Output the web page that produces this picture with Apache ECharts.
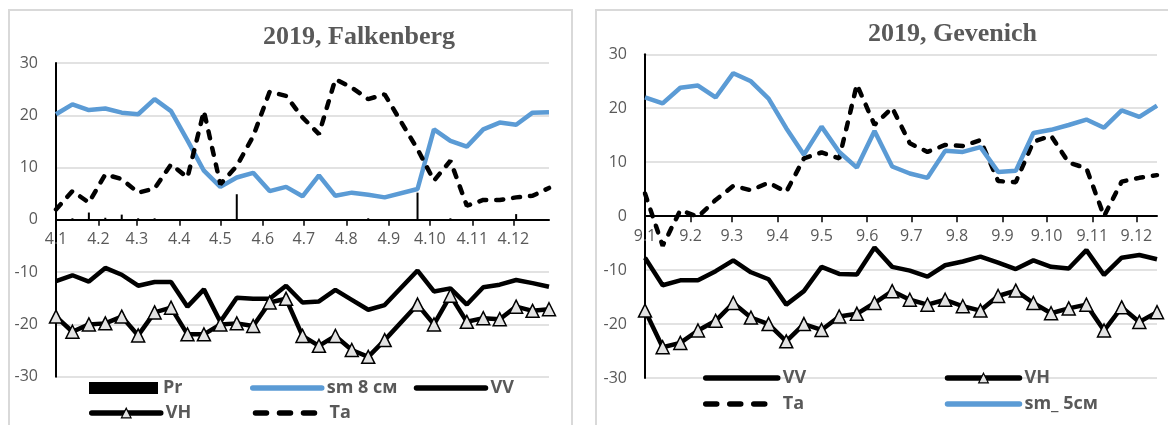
<!DOCTYPE html>
<html>
<head>
<meta charset="utf-8">
<script src="https://cdn.jsdelivr.net/npm/echarts@6/dist/echarts.min.js"></script>
<style>
html,body{margin:0;padding:0;background:#fff;}
#chart{width:1168px;height:425px;}
</style>
</head>
<body>
<div id="chart"></div>
<script>
// ---------- Falkenberg (left) ----------
const datesF = ['2019-01-04','2019-01-16','2019-01-28','2019-02-09','2019-02-21','2019-03-05','2019-03-17','2019-03-29',
  '2019-04-10','2019-04-22','2019-05-04','2019-05-16','2019-05-28','2019-06-09','2019-06-21','2019-07-03','2019-07-15',
  '2019-07-27','2019-08-08','2019-08-20','2019-09-01','2019-09-25','2019-10-07','2019-10-19','2019-10-31','2019-11-12',
  '2019-11-24','2019-12-06','2019-12-18','2019-12-30'];
const prF  = [0,0.3,1.4,0.4,1.0,0.3,0.3,0,0,0,0,4.9,0,0,0,0,0,0,0,0.3,0,5.2,0,0.3,0,0,0,1.1,0,0];
const smF  = [20.2,22.1,21.0,21.3,20.5,20.2,23.1,20.8,15.2,9.4,6.3,8.1,9.0,5.5,6.3,4.5,8.5,4.6,5.2,4.8,4.3,
  5.9,17.3,15.1,14.0,17.3,18.6,18.2,20.5,20.6];
const vvF  = [-11.7,-10.6,-11.8,-9.2,-10.5,-12.6,-11.9,-11.9,-16.6,-13.3,-19.5,-14.9,-15.1,-15.1,-12.6,-15.8,-15.6,
  -13.4,-15.3,-17.2,-16.3,-9.7,-13.7,-13.1,-16.2,-12.9,-12.4,-11.5,-12.1,-12.8];
const vhF  = [-18.5,-21.4,-20.0,-19.8,-18.5,-22.1,-17.7,-16.8,-21.9,-21.9,-20.0,-19.8,-20.3,-15.8,-15.1,-22.2,-24.1,
  -22.2,-24.9,-26.2,-23.0,-16.2,-20.0,-14.5,-19.5,-18.8,-19.0,-16.6,-17.4,-17.1];
const taF  = [2.0,5.5,3.3,8.7,7.8,5.2,6.0,10.6,8.1,20.8,6.8,10.3,16.0,24.5,23.7,19.6,16.4,26.9,25.3,23.1,24.0,
  13.5,7.5,11.3,2.7,3.8,3.8,4.3,4.6,6.1];
const ticksF = ['4.1','4.2','4.3','4.4','4.5','4.6','4.7','4.8','4.9','4.10','4.11','4.12'];

// ---------- Gevenich (right) ----------
const datesG = ['2019-01-09','2019-01-21','2019-02-02','2019-02-14','2019-02-26','2019-03-10','2019-03-22','2019-04-03',
  '2019-04-15','2019-04-27','2019-05-09','2019-05-21','2019-06-02','2019-06-14','2019-06-26','2019-07-08','2019-07-20',
  '2019-08-01','2019-08-13','2019-08-25','2019-09-06','2019-09-18','2019-09-30','2019-10-12','2019-10-24','2019-11-05',
  '2019-11-17','2019-11-29','2019-12-11','2019-12-23'];
const vvG = [-7.7,-12.8,-11.9,-11.9,-10.2,-8.2,-10.4,-11.7,-16.4,-13.9,-9.4,-10.7,-10.8,-5.8,-9.4,-10.1,-11.2,-9.1,
  -8.4,-7.5,-8.6,-9.8,-8.2,-9.4,-9.7,-6.3,-10.9,-7.7,-7.2,-8.0];
const vhG = [-17.5,-24.3,-23.5,-21.2,-19.4,-16.1,-18.8,-20.0,-23.2,-20.0,-21.1,-18.6,-18.1,-16.1,-13.9,-15.5,-16.4,
  -15.5,-16.7,-17.5,-14.8,-13.8,-16.1,-18.0,-17.1,-16.4,-21.2,-16.9,-19.6,-17.8];
const taG = [4.2,-5.5,1.1,-0.1,3.0,5.6,4.8,6.2,4.5,10.7,11.8,10.7,24.4,16.9,20.1,13.5,11.9,13.2,13.0,14.1,6.5,6.3,
  13.8,14.9,9.9,8.9,0.0,6.4,7.1,7.6];
const smG = [22.0,20.9,23.8,24.2,22.0,26.5,25.0,21.8,16.3,11.4,16.6,11.9,9.0,15.8,9.2,7.9,7.1,12.1,11.9,12.8,8.2,8.4,
  15.4,16.0,16.9,17.9,16.4,19.6,18.4,20.5];
const ticksG = ['9.1','9.2','9.3','9.4','9.5','9.6','9.7','9.8','9.9','9.10','9.11','9.12'];

// ---------- helpers ----------
const BASE = Date.UTC(2019, 0, 1), DAY = 864e5;
function dayOf(s){ const p = s.split('-').map(Number); return (Date.UTC(p[0], p[1]-1, p[2]) - BASE) / DAY; }
function tickDay(t){ const p = t.split('.').map(Number); return (Date.UTC(2019, p[1]-1, p[0]) - BASE) / DAY; }
function fmt(v){ const d = new Date(BASE + v*DAY); return d.getUTCDate() + '.' + (d.getUTCMonth()+1); }
function pairs(dates, vals){ return dates.map((d, i) => [dayOf(d), vals[i]]); }

const GRAY = '#595959', GRID = '#d9d9d9', BLUE = '#5B9BD5';
const FONT = 'Open Sans';
const LW = 4.5;
const DASH = [7, 10];
const Y_MIN = -30, Y_MAX = 30;
const gridsPx = [
  {left: 56, top: 63, width: 493, height: 313.7},
  {left: 645, top: 54.3, width: 512, height: 323.7}
];

function xAxis(idx, dates, ticks){
  const tv = ticks.map(tickDay);
  const g = gridsPx[idx];
  // category line crosses the value axis at 0 (as in the original chart)
  const zeroOffset = -g.height * (0 - Y_MIN) / (Y_MAX - Y_MIN);
  return {
    type: 'value', gridIndex: idx, position: 'bottom', offset: zeroOffset,
    min: dayOf(dates[0]), max: dayOf(dates[dates.length-1]),
    axisLine: {show: true, onZero: false, lineStyle: {color: '#000', width: 2}},
    axisTick: {show: true, customValues: tv, length: 6, lineStyle: {color: '#000', width: 1.5}},
    axisLabel: {customValues: tv, formatter: fmt, color: GRAY, fontSize: 16, fontFamily: FONT, margin: 12},
    splitLine: {show: false}
  };
}
function yAxis(idx){
  return {
    type: 'value', gridIndex: idx, min: Y_MIN, max: Y_MAX, interval: 10,
    axisLine: {show: true, onZero: false, lineStyle: {color: '#000', width: 2}},
    axisTick: {show: false},
    axisLabel: {color: GRAY, fontSize: 16, fontFamily: FONT, margin: 18},
    splitLine: {show: true, lineStyle: {color: GRID, width: 1.5}}
  };
}
function lineS(name, idx, data, color, extra){
  return Object.assign({
    name, type: 'line', xAxisIndex: idx, yAxisIndex: idx, data,
    symbol: 'none', lineStyle: {color, width: LW}, itemStyle: {color}, z: 3
  }, extra || {});
}
function vhS(name, idx, data){
  return {
    name, type: 'line', xAxisIndex: idx, yAxisIndex: idx, data,
    symbol: 'triangle', symbolSize: 13, showAllSymbol: true,
    lineStyle: {color: '#000', width: LW},
    itemStyle: {color: '#e3e3e3', borderColor: '#000', borderWidth: 1.5}, z: 3
  };
}
function taS(name, idx, data){
  return lineS(name, idx, data, '#000', {lineStyle: {color: '#000', width: LW, type: DASH, cap: 'round'}});
}
function legend(left, top, items, itemWidth, textWidth){
  return {
    left, top, width: 560, orient: 'horizontal', padding: 0, itemGap: 0,
    itemWidth, itemHeight: 12, selectedMode: false,
    lineStyle: {width: 5.5, cap: 'round'},
    textStyle: {color: GRAY, fontSize: 18, fontWeight: 'bold', fontFamily: FONT, width: textWidth, lineHeight: 20},
    data: items
  };
}
// legend entries: plain lines hide the default dot, VH keeps its triangle
const plain = name => ({name, itemStyle: {opacity: 0}});
const prItem = {name: 'Pr', icon: 'rect'};
const vhItem = {name: 'VH', itemStyle: {color: '#e3e3e3', borderColor: '#000', borderWidth: 1.2}};
const taItem = {name: 'Ta', itemStyle: {opacity: 0}, lineStyle: {type: [11, 13], cap: 'round'}};

const chart = echarts.init(document.getElementById('chart'), null, {renderer: 'canvas'});
chart.setOption({
  backgroundColor: '#fff',
  animation: false,
  graphic: [
    {type: 'rect', silent: true, shape: {x: 9, y: 10, width: 563, height: 440}, style: {fill: 'none', stroke: GRID, lineWidth: 2}},
    {type: 'rect', silent: true, shape: {x: 596, y: 10, width: 600, height: 440}, style: {fill: 'none', stroke: GRID, lineWidth: 2}}
  ],
  title: [
    {text: '2019, Falkenberg', left: 263, top: 24, padding: 0,
     textStyle: {fontFamily: 'Liberation Serif', fontWeight: 'bold', fontSize: 26, color: GRAY}},
    {text: '2019, Gevenich', left: 868, top: 21, padding: 0,
     textStyle: {fontFamily: 'Liberation Serif', fontWeight: 'bold', fontSize: 26, color: GRAY}}
  ],
  legend: [
    legend(89, 378, [prItem, plain('sm 8 см'), plain('VV')], 69, 87),
    legend(89, 403, [vhItem, taItem], 69, 87),
    legend(703, 368, [plain('VV'), vhItem], 72, 162),
    legend(703, 394, [taItem, plain('sm_ 5см')], 72, 162)
  ],
  grid: gridsPx,
  xAxis: [xAxis(0, datesF, ticksF), xAxis(1, datesG, ticksG)],
  yAxis: [yAxis(0), yAxis(1)],
  series: [
    {name: 'Pr', type: 'bar', xAxisIndex: 0, yAxisIndex: 0, data: pairs(datesF, prF), barWidth: 2,
     itemStyle: {color: '#000'}, z: 2},
    lineS('sm 8 см', 0, pairs(datesF, smF), BLUE),
    lineS('VV', 0, pairs(datesF, vvF), '#000'),
    vhS('VH', 0, pairs(datesF, vhF)),
    taS('Ta', 0, pairs(datesF, taF)),

    lineS('VV', 1, pairs(datesG, vvG), '#000'),
    vhS('VH', 1, pairs(datesG, vhG)),
    taS('Ta', 1, pairs(datesG, taG)),
    lineS('sm_ 5см', 1, pairs(datesG, smG), BLUE)
  ]
});
</script>
</body>
</html>
